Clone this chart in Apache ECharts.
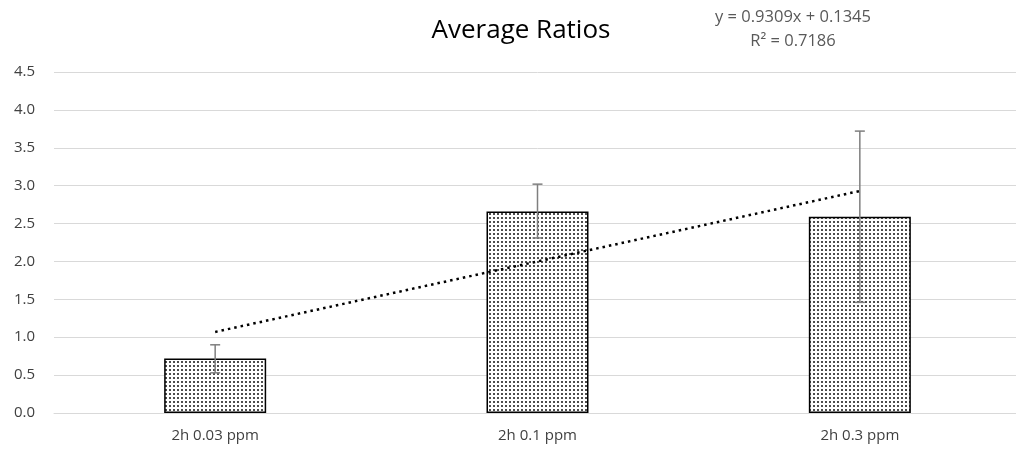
<!DOCTYPE html>
<html>
<head>
<meta charset="utf-8">
<script src="https://cdn.jsdelivr.net/npm/echarts@6/dist/echarts.min.js"></script>
<style>
  html, body { margin: 0; padding: 0; background: #fff; overflow: hidden; }
  #chart { width: 1024px; height: 452px; }
</style>
</head>
<body>
<div id="chart"></div>
<script>
// datos del grafico
const categories = ['2h 0.03 ppm', '2h 0.1 ppm', '2h 0.3 ppm'];
const ratios = [0.72, 2.66, 2.59];
const errLow = [0.53, 2.31, 1.46];
const errHigh = [0.90, 3.02, 3.72];
const trendValues = [1.07, 2.00, 2.93];
const yTicks = [0, 0.5, 1, 1.5, 2, 2.5, 3, 3.5, 4, 4.5];

// patron de puntos para las barras
const pat = document.createElement('canvas');
pat.width = 4;
pat.height = 4;
const pctx = pat.getContext('2d');
pctx.fillStyle = '#fff';
pctx.fillRect(0, 0, 4, 4);
pctx.fillStyle = '#4d4d4d';
pctx.fillRect(1, 1, 2, 2);

const font = '"Open Sans", "Liberation Sans", sans-serif';

const chart = echarts.init(document.getElementById('chart'));
chart.setOption({
    animation: false,
    title: [
        {
            text: 'Average Ratios',
            left: 516,
            top: 13,
            textAlign: 'center',
            textStyle: { fontFamily: font, fontSize: 26, fontWeight: 'normal', color: '#000' }
        },
        {
            text: 'y = 0.9309x + 0.1345\nR² = 0.7186',
            left: 788,
            top: 0,
            textAlign: 'center',
            textStyle: { fontFamily: font, fontSize: 16.5, fontWeight: 'normal', color: '#595959', lineHeight: 24, align: 'center' }
        }
    ],
    grid: { left: 54, top: 72, width: 967, height: 341, containLabel: false },
    xAxis: {
        type: 'category',
        data: categories,
        axisLine: { lineStyle: { color: '#d9d9d9', width: 1 } },
        axisTick: { show: false },
        axisLabel: { fontFamily: font, fontSize: 15, color: '#404040', margin: 15 }
    },
    yAxis: {
        type: 'value',
        min: yTicks[0],
        max: yTicks[yTicks.length - 1],
        interval: 0.5,
        axisLine: { show: false },
        axisTick: { show: false },
        splitLine: { lineStyle: { color: '#d9d9d9', width: 1 } },
        axisLabel: {
            fontFamily: font, fontSize: 15, color: '#404040', margin: 19,
            formatter: v => v.toFixed(1)
        }
    },
    series: [
        {
            type: 'bar',
            data: ratios,
            barWidth: 102,
            itemStyle: {
                color: { image: pat, repeat: 'repeat' },
                borderColor: '#000',
                borderWidth: 1.5
            },
            z: 2
        },
        {
            type: 'custom',
            data: categories.map((c, i) => [i, errLow[i], errHigh[i]]),
            renderItem: (params, api) => {
                const lo = api.coord([api.value(0), api.value(1)]);
                const hi = api.coord([api.value(0), api.value(2)]);
                const w = 5;
                const st = { stroke: '#7f7f7f', lineWidth: 1.5 };
                return {
                    type: 'group',
                    children: [
                        { type: 'line', shape: { x1: hi[0], y1: hi[1], x2: lo[0], y2: lo[1] }, style: st },
                        { type: 'line', shape: { x1: hi[0] - w, y1: hi[1], x2: hi[0] + w, y2: hi[1] }, style: st },
                        { type: 'line', shape: { x1: lo[0] - w, y1: lo[1], x2: lo[0] + w, y2: lo[1] }, style: st }
                    ]
                };
            },
            z: 3
        },
        {
            type: 'line',
            data: trendValues,
            symbol: 'none',
            lineStyle: { color: '#000', width: 2.5, type: [2.5, 4] },
            z: 4
        }
    ]
});
</script>
</body>
</html>
